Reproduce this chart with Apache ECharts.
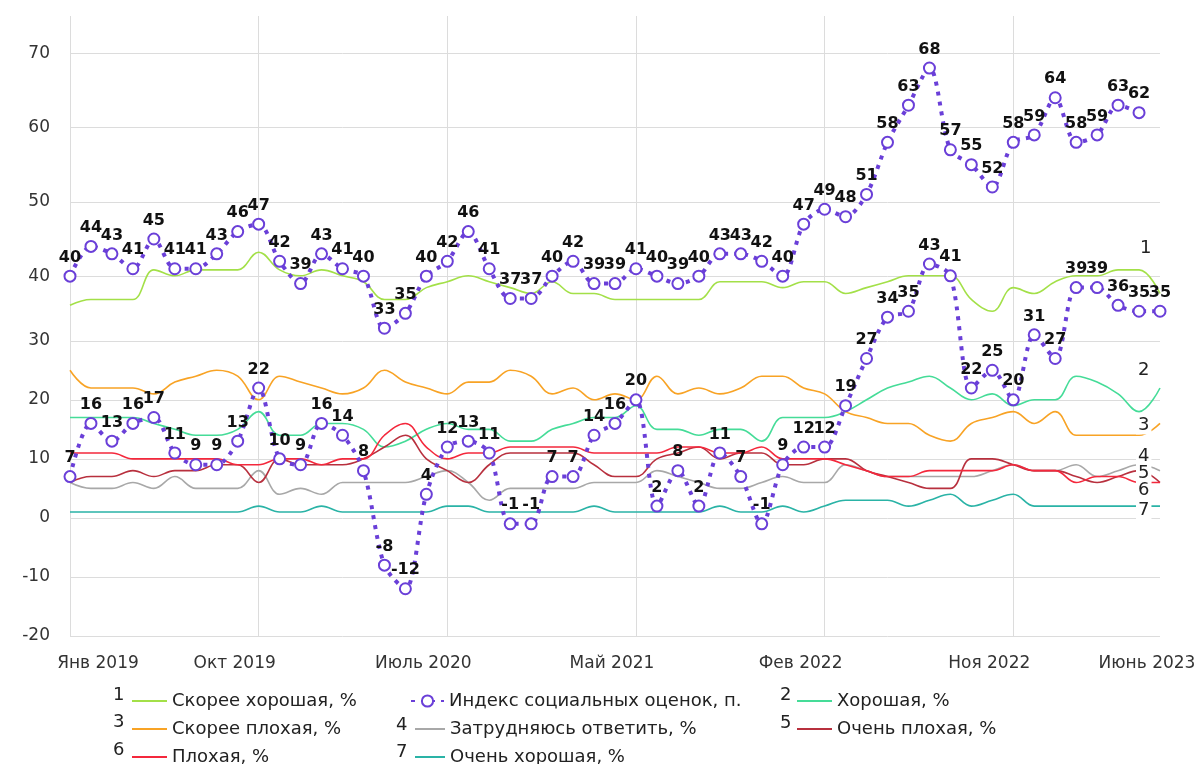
<!DOCTYPE html>
<html>
<head>
<meta charset="utf-8">
<style>
html, body { margin: 0; padding: 0; background: #fff; }
#chart { width: 1201px; height: 764px; }
</style>
<script src="https://cdn.jsdelivr.net/npm/echarts@6/dist/echarts.min.js"></script>
</head>
<body>
<div id="chart"></div>
<script>
var months = [
  'Янв 2019', 'Фев 2019', 'Мар 2019', 'Апр 2019', 'Май 2019', 'Июнь 2019', 'Июль 2019', 'Авг 2019', 'Сен 2019', 'Окт 2019', 'Ноя 2019', 'Дек 2019',
  'Янв 2020', 'Фев 2020', 'Мар 2020', 'Апр 2020', 'Май 2020', 'Июнь 2020', 'Июль 2020', 'Авг 2020', 'Сен 2020', 'Окт 2020', 'Ноя 2020', 'Дек 2020',
  'Фев 2021', 'Мар 2021', 'Апр 2021', 'Май 2021', 'Июнь 2021', 'Июль 2021', 'Авг 2021', 'Сен 2021', 'Окт 2021', 'Ноя 2021', 'Дек 2021',
  'Янв 2022', 'Фев 2022', 'Мар 2022', 'Апр 2022', 'Май 2022', 'Июнь 2022', 'Июль 2022', 'Авг 2022', 'Сен 2022', 'Окт 2022', 'Ноя 2022', 'Дек 2022',
  'Янв 2023', 'Фев 2023', 'Мар 2023', 'Апр 2023', 'Май 2023', 'Июнь 2023'
];

// upper index (own scale 30..75)
var indexTop = [40, 44, 43, 41, 45, 41, 41, 43, 46, 47, 42, 39, 43, 41, 40, 33, 35, 40, 42, 46,
  41, 37, 37, 40, 42, 39, 39, 41, 40, 39, 40, 43, 43, 42, 40, 47, 49, 48, 51, 58,
  63, 68, 57, 55, 52, 58, 59, 64, 58, 59, 63, 62];

// lower index (scale -20..30)
var indexLow = [7, 16, 13, 16, 17, 11, 9, 9, 13, 22, 10, 9, 16, 14, 8, -8, -12, 4, 12, 13,
  11, -1, -1, 7, 7, 14, 16, 20, 2, 8, 2, 11, 7, -1, 9, 12, 12, 19, 27, 34,
  35, 43, 41, 22, 25, 20, 31, 27, 39, 39, 36, 35, 35];

var ratherGood = [36, 37, 37, 37, 42, 41, 42, 42, 42, 45, 42, 41, 42, 41, 40, 37, 37, 39, 40, 41,
  40, 39, 38, 40, 38, 38, 37, 37, 37, 37, 37, 40, 40, 40, 39, 40, 40, 38, 39, 40,
  41, 41, 41, 37, 35, 39, 38, 40, 41, 41, 42, 42, 38];
var good = [17, 17, 17, 17, 16, 15, 14, 14, 15, 18, 14, 14, 16, 16, 15, 12, 13, 15, 16, 15,
  15, 13, 13, 15, 16, 17, 17, 19, 15, 15, 14, 15, 15, 13, 17, 17, 17, 18, 20, 22,
  23, 24, 22, 20, 21, 19, 20, 20, 24, 23, 21, 18, 22];
var ratherBad = [25, 22, 22, 22, 21, 23, 24, 25, 24, 20, 24, 23, 22, 21, 22, 25, 23, 22, 21, 23,
  23, 25, 24, 21, 22, 20, 21, 20, 24, 21, 22, 21, 22, 24, 24, 22, 21, 18, 17, 16,
  16, 14, 13, 16, 17, 18, 16, 18, 14, 14, 14, 14, 16];
var hardToSay = [6, 5, 5, 6, 5, 7, 5, 5, 5, 8, 4, 5, 4, 6, 6, 6, 6, 7, 8, 6,
  3, 5, 5, 5, 5, 6, 6, 6, 8, 7, 6, 5, 5, 6, 7, 6, 6, 9, 8, 7,
  7, 7, 7, 7, 8, 9, 8, 8, 9, 7, 8, 9, 8];
var veryBad = [6, 7, 7, 8, 7, 8, 8, 9, 9, 6, 10, 9, 9, 9, 10, 12, 14, 10, 8, 6,
  9, 11, 11, 11, 11, 9, 7, 7, 10, 11, 12, 10, 11, 11, 9, 9, 10, 10, 8, 7,
  6, 5, 5, 10, 10, 9, 8, 8, 7, 6, 7, 8, 6];
var bad = [11, 11, 11, 10, 10, 10, 10, 10, 9, 9, 10, 10, 9, 10, 10, 14, 16, 12, 10, 11,
  11, 12, 12, 12, 12, 11, 11, 11, 11, 12, 12, 11, 11, 12, 10, 10, 10, 9, 8, 7,
  7, 8, 8, 8, 8, 9, 8, 8, 6, 7, 7, 6, 6];
var veryGood = [1, 1, 1, 1, 1, 1, 1, 1, 1, 2, 1, 1, 2, 1, 1, 1, 1, 1, 2, 2,
  1, 1, 1, 1, 1, 2, 1, 1, 1, 1, 1, 2, 1, 1, 2, 1, 2, 3, 3, 3,
  2, 3, 4, 2, 3, 4, 2, 2, 2, 2, 2, 2, 2];

var FONT = 'DejaVu Sans';
var PURPLE = '#6a3fd8';
var GRIDC = '#dcdcdc';
var NONE = 'rgba(0,0,0,0)';
var INDEX_NAME = 'Индекс социальных оценок, п.';

var chart = echarts.init(document.getElementById('chart'));

function thin(name, data, color, num, off) {
  return {
    name: name,
    type: 'line',
    xAxisIndex: 0,
    yAxisIndex: 0,
    data: data,
    smooth: 0.4,
    symbol: 'none',
    z: 2,
    lineStyle: { color: color, width: 1.6 },
    itemStyle: { color: color },
    endLabel: {
      show: true,
      formatter: num,
      offset: off,
      color: '#222',
      fontSize: 18,
      fontFamily: FONT,
      backgroundColor: '#fff',
      padding: [0, 2]
    }
  };
}

function indexSeries(data, xi, yi) {
  return {
    name: INDEX_NAME,
    type: 'line',
    xAxisIndex: xi,
    yAxisIndex: yi,
    data: data,
    smooth: 0.3,
    symbol: 'emptyCircle',
    symbolSize: 11,
    showAllSymbol: true,
    z: 5,
    lineStyle: { color: PURPLE, width: 4, type: [4, 6] },
    itemStyle: { color: PURPLE, borderColor: PURPLE, borderWidth: 3 },
    label: {
      show: true,
      position: 'top',
      distance: 4,
      fontSize: 16,
      fontWeight: 'bold',
      color: '#111',
      fontFamily: FONT
    }
  };
}

// one legend box per entry, so the three columns sit where they do in the source
function legendItem(name, left, top, w, isLine) {
  var l = {
    data: [name],
    left: left,
    top: top,
    padding: 0,
    itemWidth: w,
    itemHeight: isLine ? 2 : 14,
    textStyle: { fontSize: 18, color: '#222', fontFamily: FONT, lineHeight: 18 }
  };
  if (isLine) l.icon = 'rect';
  return l;
}

function numText(t, x, y) {
  return { type: 'text', left: x, top: y, style: { text: t, fontSize: 18, fontFamily: FONT, fill: '#222' } };
}

var xLabelRich = {
  f: { padding: [0, 0, 0, 56], fontSize: 17, fontFamily: FONT, color: '#333' },
  m: { padding: [0, 48, 0, 0], fontSize: 17, fontFamily: FONT, color: '#333' },
  l: { padding: [0, 26, 0, 0], fontSize: 17, fontFamily: FONT, color: '#333' }
};

var option = {
  backgroundColor: '#fff',
  animation: false,
  grid: [
    { left: 70, right: 41, top: 16, bottom: 128 },
    { left: 70, right: 41, top: 16, bottom: 413.5 }
  ],
  xAxis: [
    {
      gridIndex: 0,
      type: 'category',
      data: months,
      boundaryGap: false,
      axisLine: { show: false },
      axisTick: { show: false },
      splitLine: { show: true, interval: 8, lineStyle: { color: GRIDC } },
      axisLabel: {
        interval: function (i) { return i % 9 === 0 || i === months.length - 1; },
        margin: 19,
        formatter: function (v, i) {
          if (i === 0) return '{f|' + v + '}';
          if (i === months.length - 1) return '{l|' + v + '}';
          return '{m|' + v + '}';
        },
        rich: xLabelRich
      }
    },
    { gridIndex: 1, type: 'category', data: months, boundaryGap: false, show: false }
  ],
  yAxis: [
    {
      gridIndex: 0,
      type: 'value',
      min: -20,
      max: 85,
      interval: 10,
      axisLine: { show: false },
      axisTick: { show: false },
      axisLabel: {
        margin: 20,
        fontSize: 17,
        fontFamily: FONT,
        color: '#333',
        formatter: function (v) { return v <= 30 ? String(v) : ''; }
      },
      splitLine: { lineStyle: { color: [GRIDC, GRIDC, GRIDC, GRIDC, GRIDC, GRIDC, NONE, NONE, NONE, NONE, NONE, NONE, NONE] } }
    },
    {
      gridIndex: 1,
      type: 'value',
      min: 30,
      max: 75,
      interval: 10,
      axisLine: { show: false },
      axisTick: { show: false },
      axisLabel: {
        margin: 20,
        fontSize: 17,
        fontFamily: FONT,
        color: '#333',
        formatter: function (v) { return (v >= 40 && v <= 70) ? String(v) : ''; }
      },
      splitLine: { lineStyle: { color: [NONE, GRIDC, GRIDC, GRIDC, GRIDC, NONE, NONE] } }
    }
  ],
  legend: [
    legendItem('Скорее хорошая, %', 132, 692, 35, true),
    legendItem('Скорее плохая, %', 132, 720, 35, true),
    legendItem('Плохая, %', 132, 748, 35, true),
    legendItem(INDEX_NAME, 410, 692, 33, false),
    legendItem('Затрудняюсь ответить, %', 415, 720, 30, true),
    legendItem('Очень хорошая, %', 415, 748, 30, true),
    legendItem('Хорошая, %', 797, 692, 35, true),
    legendItem('Очень плохая, %', 797, 720, 35, true)
  ],
  graphic: [
    numText('1', 113, 686), numText('3', 113, 713), numText('6', 113, 741),
    numText('4', 396, 716), numText('7', 396, 743),
    numText('2', 780, 686), numText('5', 780, 714)
  ],
  series: [
    thin('Скорее хорошая, %', ratherGood, '#a3e048', '1', [-30, -45]),
    thin('Хорошая, %', good, '#45dc98', '2', [-32, -18]),
    thin('Скорее плохая, %', ratherBad, '#f8a325', '3', [-32, 2]),
    thin('Затрудняюсь ответить, %', hardToSay, '#a8a8a8', '4', [-32, -14]),
    thin('Очень плохая, %', veryBad, '#b8303e', '5', [-32, -9]),
    thin('Плохая, %', bad, '#f4283c', '6', [-32, 8]),
    thin('Очень хорошая, %', veryGood, '#2ab3a6', '7', [-32, 4]),
    indexSeries(indexLow, 0, 0),
    indexSeries(indexTop, 1, 1)
  ]
};

chart.setOption(option);
</script>
</body>
</html>
